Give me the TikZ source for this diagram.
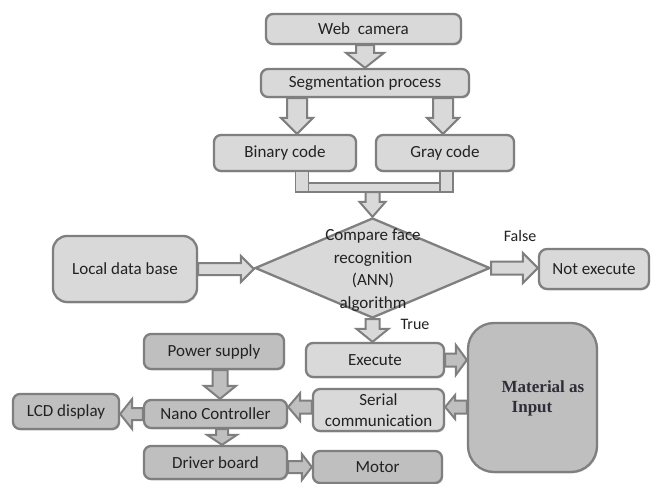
\documentclass[tikz,border=0pt]{standalone}
\usepackage{fontspec}
\setmainfont{Carlito}[Ligatures=NoCommon]
\newfontfamily\matfont{Liberation Serif}
\usetikzlibrary{calc,shapes.geometric,shadows}

\definecolor{boxlight}{HTML}{D9D9D9}
\definecolor{boxdark}{HTML}{BFBFBF}
\definecolor{edge}{HTML}{7F7F7F}
\definecolor{ink}{HTML}{222222}
\definecolor{matink}{HTML}{2E2E38}

\newcommand{\bodyfont}{\fontsize{17pt}{21pt}\selectfont}
\newcommand{\tagfont}{\fontsize{16pt}{19pt}\selectfont}

% Block arrow: [style]{from}{to}{half shaft width}{half head width}{head length}
\newcommand{\blockarrow}[6][]{%
  \coordinate (bahead) at ($(#3)!#6!(#2)$);
  \draw[barrow,#1]
    ($(#2)!#4!90:(#3)$) -- ($(bahead)!#4!90:(#3)$) --
    ($(bahead)!#5!90:(#3)$) -- (#3) --
    ($(bahead)!#5!-90:(#3)$) -- ($(bahead)!#4!-90:(#3)$) --
    ($(#2)!#4!-90:(#3)$) -- cycle;
}

\tikzset{
  box/.style={draw=edge, line width=2.3pt, rounded corners=7pt, fill=boxlight,
    text=ink, inner sep=0pt, align=center, font=\bodyfont,
    drop shadow={shadow xshift=1pt, shadow yshift=-1.5pt, opacity=0.25}},
  darkbox/.style={box, fill=boxdark},
  decision/.style={diamond, draw=edge, line width=2.3pt, fill=boxlight,
    inner sep=0pt, minimum width=235pt, minimum height=100pt},
  barrow/.style={draw=edge, line width=2pt, fill=boxlight},
  darkarrow/.style={barrow, fill=boxdark},
  pipe/.style={draw=edge, line width=1.8pt, fill=boxlight},
  tag/.style={text=ink, font=\tagfont, inner sep=0pt},
}

\begin{document}
\begin{tikzpicture}[x=1pt, y=-1pt]
  \fill[white] (0,0) rectangle (659,484);
  \useasboundingbox (0,0) rectangle (659,484);

  % upper chain
  \node[box, minimum width=195pt, minimum height=30pt] (web) at (363.5,29) {Web\ \ camera};
  \node[box, minimum width=208pt, minimum height=28pt] (seg) at (365,83) {Segmentation process};
  \node[box, minimum width=142pt, minimum height=36pt] (binary) at (285,153) {Binary code};
  \node[box, minimum width=138pt, minimum height=36pt] (gray) at (445,153) {Gray code};

  % decision
  \node[decision] (cmp) at (372.5,268) {};
  \node[text=ink, align=center, inner sep=0pt, font=\fontsize{17pt}{22.5pt}\selectfont]
    (cmptext) at (373,270) {Compare face\\recognition\\(ANN)\\algorithm};
  \node[box, rounded corners=14pt, minimum width=144pt, minimum height=66pt] (local) at (125,269) {Local data base};
  \node[box, rounded corners=8pt, minimum width=110pt, minimum height=40pt] (notexec) at (594,269) {Not execute};
  \node[tag] (lblfalse) at (520,236) {False};
  \node[tag] (lbltrue) at (415,324) {True};

  % execution side
  \node[box, minimum width=138pt, minimum height=34pt] (execute) at (375,360) {Execute};
  \node[box, minimum width=131pt, minimum height=42pt, font=\fontsize{17pt}{21pt}\selectfont]
    (serial) at (378.5,410) {Serial\\communication};
  \node[darkbox, rounded corners=26pt, minimum width=129pt, minimum height=149pt] (material) at (532.5,397.5) {};
  \node[text=matink, align=left, inner sep=0pt, font=\matfont\bfseries\fontsize{17pt}{20pt}\selectfont]
    (mattext) at (543,398) {Material as\\\hspace*{10pt}Input};

  % controller side
  \node[darkbox, minimum width=140pt, minimum height=35pt] (power) at (214,351.5) {Power supply};
  \node[darkbox, minimum width=143pt, minimum height=28pt] (nano) at (215.5,414) {Nano Controller};
  \node[darkbox, minimum width=143pt, minimum height=33pt] (driver) at (215.5,462.5) {Driver board};
  \node[darkbox, minimum width=106pt, minimum height=35pt] (lcd) at (66,411.5) {LCD display};
  \node[darkbox, minimum width=129pt, minimum height=32pt] (motor) at (377.5,467) {Motor};

  % web camera -> segmentation -> codes
  \blockarrow{seg.north |- web.south}{seg.north}{9pt}{19pt}{15pt}
  \coordinate (binin) at ([xshift=12pt]binary.north);
  \coordinate (grayin) at ([xshift=-2pt]gray.north);
  \blockarrow{binin |- seg.south}{binin}{10pt}{16pt}{16pt}
  \blockarrow{grayin |- seg.south}{grayin}{10pt}{16pt}{16pt}

  % codes merged into one feed
  \coordinate (bL) at ([xshift=17pt]binary.south);
  \coordinate (bR) at ([xshift=1.5pt]gray.south);
  \coordinate (barbot) at ($(bR)+(6.5,20)$);
  \draw[pipe] ($(bL)+(-6.5,11)$) rectangle (barbot);
  \draw[pipe] ($(bL)+(-6.5,-1)$) rectangle ($(bL)+(6.5,20)$);
  \draw[pipe] ($(bR)+(-6.5,-1)$) rectangle ($(bR)+(6.5,20)$);
  \blockarrow{cmp.north |- barbot}{cmp.north}{7pt}{13pt}{15pt}

  % decision inputs and outputs
  \blockarrow{local.east}{cmp.west |- local.east}{6pt}{13pt}{13pt}
  \blockarrow{cmp.east}{notexec.west |- cmp.east}{6.5pt}{15pt}{15pt}
  \blockarrow{cmp.south}{execute.north -| cmp.south}{7pt}{16pt}{13pt}

  % execution loop
  \blockarrow[darkarrow]{execute.east}{material.west |- execute.east}{6.5pt}{15pt}{11pt}
  \coordinate (matout) at ([yshift=3pt]material.west |- serial.east);
  \blockarrow[darkarrow]{matout}{serial.east |- matout}{6.5pt}{12pt}{10pt}
  \coordinate (serout) at ([yshift=3pt]serial.west);
  \blockarrow[darkarrow]{serout}{nano.east |- serout}{6.5pt}{14pt}{12pt}
  \blockarrow[darkarrow]{nano.west}{lcd.east |- nano.west}{6pt}{15pt}{12pt}

  % controller supply and drive
  \coordinate (pwrout) at ([xshift=6pt]power.south);
  \blockarrow[darkarrow]{pwrout}{pwrout |- nano.north}{7.5pt}{16pt}{13pt}
  \coordinate (nanoout) at ([xshift=6.5pt]nano.south);
  \blockarrow[darkarrow]{nanoout}{nanoout |- driver.north}{6pt}{15pt}{10pt}
  \blockarrow[darkarrow]{driver.east |- motor.west}{motor.west}{6pt}{13pt}{10pt}
\end{tikzpicture}
\end{document}
